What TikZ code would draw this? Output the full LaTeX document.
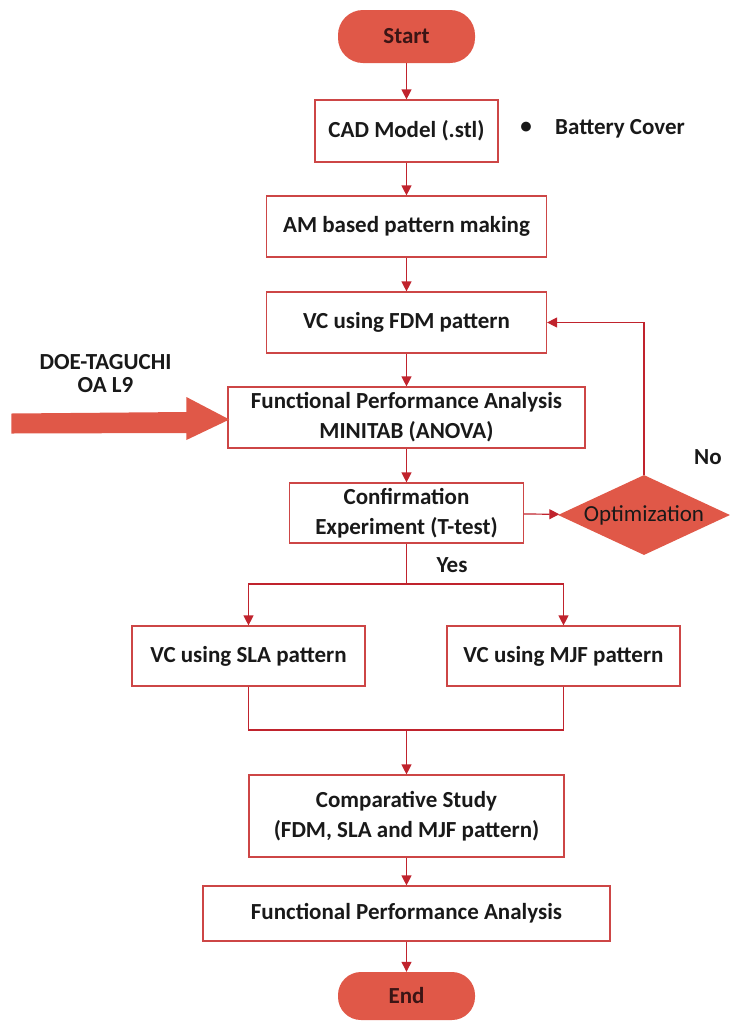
\documentclass[tikz,border=0pt]{standalone}
\usepackage{fontspec}
\setmainfont{Carlito}
\usetikzlibrary{shapes.geometric,arrows.meta,calc}
\definecolor{bred}{RGB}{205,70,70}
\definecolor{lred}{RGB}{192,35,45}
\definecolor{cfill}{RGB}{224,88,72}
\definecolor{txt}{RGB}{25,25,25}
\begin{document}
\begin{tikzpicture}[x=1pt,y=-1pt,
  box/.style={draw=bred, line width=1.2pt, inner sep=0pt, align=center,
    font=\bfseries\fontsize{23}{30}\selectfont, text=txt},
  term/.style={fill=cfill, rounded corners=25pt, inner sep=0pt,
    minimum width=137pt, minimum height=53pt,
    font=\bfseries\fontsize{23}{30}\selectfont, text=txt!85!red},
  dec/.style={diamond, fill=cfill, inner sep=0pt, aspect=2.1,
    minimum width=172pt, minimum height=80pt,
    font=\fontsize{23}{30}\selectfont, text=txt},
  lbl/.style={inner sep=0pt, font=\bfseries\fontsize{23}{23}\selectfont, text=txt},
  conn/.style={draw=lred, line width=1.2pt},
  arr/.style={conn, -{Triangle[length=10pt,width=10pt]}}]
\useasboundingbox (0,0) rectangle (730,1021);

\node[term] (start) at (406.5,36.5) {Start};
\node[box, minimum width=183pt, minimum height=62pt] (cad) at (406.5,131) {CAD Model (.stl)};
\node[lbl] (bullet) at (526,128) {•};
\node[lbl, anchor=west] (battery) at (555,129) {Battery Cover};
\node[box, minimum width=280pt, minimum height=61pt] (am) at (406.5,226.5) {AM based pattern making};
\node[box, minimum width=280pt, minimum height=61pt] (fdm) at (406.5,322.5) {VC using FDM pattern};
\node[box, minimum width=357pt, minimum height=61pt] (fpa) at (406.5,417.5) {Functional Performance Analysis\\MINITAB (ANOVA)};
\node[lbl, align=center] (doe) at (105.5,374) {DOE-TAGUCHI\\OA L9};
\node[box, minimum width=234pt, minimum height=60pt] (conf) at (406.5,513) {Confirmation\\Experiment (T-test)};
\node[dec] (opt) at (644,515) {Optimization};
\node[lbl] (no) at (708,457) {No};
\node[lbl] (yes) at (452,565) {Yes};
\node[box, minimum width=233pt, minimum height=60pt] (sla) at (248.5,656) {VC using SLA pattern};
\node[box, minimum width=233pt, minimum height=60pt] (mjf) at (563.5,656) {VC using MJF pattern};
\node[box, minimum width=315pt, minimum height=82pt] (comp) at (406.5,816) {Comparative Study\\(FDM, SLA and MJF pattern)};
\node[box, minimum width=407pt, minimum height=55pt] (fpb) at (406.5,913.5) {Functional Performance Analysis};
\node[term, minimum height=48pt, rounded corners=23pt] (end) at (406.5,996) {End};

\coordinate (br) at (406.5,584);
\coordinate (mg) at (406.5,730);

\draw[arr] (start) -- (cad);
\draw[arr] (cad) -- (am);
\draw[arr] (am) -- (fdm);
\draw[arr] (fdm) -- (fpa);
\draw[arr] (fpa) -- (conf);
\draw[arr] (conf) -- (opt);
\draw[arr] (opt.north) -- (opt.north |- fdm.east) -- (fdm.east);
\draw[conn] (conf) -- (br);
\draw[arr] (br) -| (sla.north);
\draw[arr] (br) -| (mjf.north);
\draw[conn] (sla.south) |- (mg);
\draw[conn] (mjf.south) |- (mg);
\draw[arr] (mg) -- (comp);
\draw[arr] (comp) -- (fpb);
\draw[arr] (fpb) -- (end);

\fill[cfill] ($(fpa.west)+(-216,-4)$) -- ($(fpa.west)+(-41,-5.5)$) -- ($(fpa.west)+(-41,-20.5)$)
  -- ($(fpa.west)+(2,2)$) -- ($(fpa.west)+(-41,22.5)$) -- ($(fpa.west)+(-41,15.5)$) -- ($(fpa.west)+(-216,16)$) -- cycle;
\end{tikzpicture}
\end{document}
